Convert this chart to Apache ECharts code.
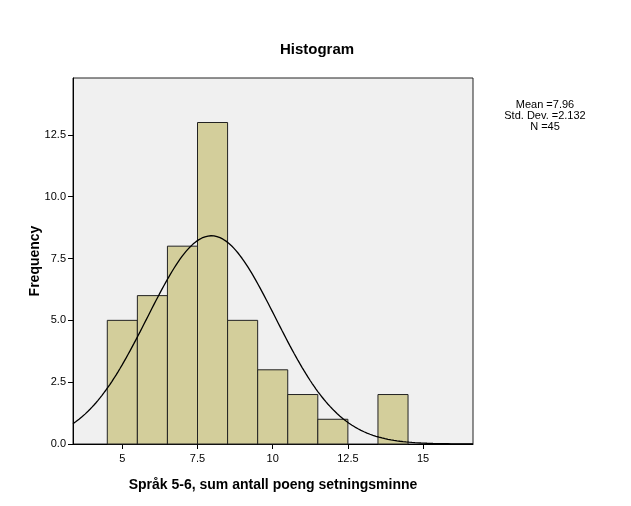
<!DOCTYPE html>
<html>
<head>
<meta charset="utf-8">
<script src="https://cdn.jsdelivr.net/npm/echarts@6/dist/echarts.min.js"></script>
<style>
  html, body { margin: 0; padding: 0; background: #fff; }
  #chart { width: 631px; height: 506px; }
</style>
</head>
<body>
<div id="chart"></div>
<script>
// histogram bins (centre of each bin, width 1)
var binCenters = [5, 6, 7, 8, 9, 10, 11, 12, 13, 14];
var binCounts = [5, 6, 8, 13, 5, 3, 2, 1, 0, 2];
var xTicks = [5, 7.5, 10, 12.5, 15];
var yTicks = [0, 2.5, 5, 7.5, 10, 12.5];

// summary statistics shown in the legend
var mean = 7.96;
var stdDev = 2.132;
var n = 45;

// fitted normal curve (scaled to counts, bin width 1)
var curve = [];
for (var i = 0; i <= 400; i++) {
  var x = 3.36 + i * (16.66 - 3.36) / 400;
  var z = (x - mean) / stdDev;
  curve.push([x, n / (stdDev * Math.sqrt(2 * Math.PI)) * Math.exp(-0.5 * z * z)]);
}

var myChart = echarts.init(document.getElementById('chart'));
var font = 'Arial, "Liberation Sans", sans-serif';

var option = {
  backgroundColor: '#ffffff',
  animation: false,
  title: {
    text: 'Histogram',
    left: 312,
    top: 37,
    textAlign: 'center',
    textStyle: { fontFamily: font, fontSize: 15, fontWeight: 'bold', color: '#000' }
  },
  grid: {
    left: 73,
    right: 158,
    top: 78,
    bottom: 62,
    show: true,
    backgroundColor: '#f0f0f0',
    borderColor: '#222',
    borderWidth: 1
  },
  xAxis: {
    type: 'value',
    min: 3.36,
    max: 16.66,
    name: 'Språk 5-6, sum antall poeng setningsminne',
    nameLocation: 'middle',
    nameGap: 34,
    nameTextStyle: { fontFamily: font, fontSize: 14, fontWeight: 'bold', color: '#000' },
    axisLine: { lineStyle: { color: '#000', width: 1 } },
    axisTick: { show: true, length: 5, customValues: xTicks, lineStyle: { color: '#000' } },
    axisLabel: {
      customValues: xTicks,
      fontFamily: font, fontSize: 11, color: '#000', margin: 9,
      formatter: function (v) { return String(v); }
    },
    splitLine: { show: false }
  },
  yAxis: {
    type: 'value',
    min: 0,
    max: 14.8,
    interval: 2.5,
    name: 'Frequency',
    nameLocation: 'middle',
    nameGap: 31,
    nameMoveOverlap: false,
    nameTextStyle: { fontFamily: font, fontSize: 14, fontWeight: 'bold', color: '#000' },
    axisLine: { show: true, lineStyle: { color: '#000', width: 1 } },
    axisTick: { show: true, length: 5, customValues: yTicks, lineStyle: { color: '#000' } },
    axisLabel: {
      customValues: yTicks,
      fontFamily: font, fontSize: 11, color: '#000', margin: 7,
      formatter: function (v) { return v.toFixed(1); }
    },
    splitLine: { show: false }
  },
  graphic: [
    {
      type: 'text',
      x: 545,
      y: 99,
      style: {
        text: 'Mean =' + mean + '\nStd. Dev. =' + stdDev + '\nN =' + n,
        fontFamily: font,
        fontSize: 11,
        lineHeight: 11,
        fill: '#000',
        align: 'center'
      }
    }
  ],
  series: [
    {
      type: 'custom',
      data: binCenters.map(function (c, i) { return [c, binCounts[i]]; }),
      renderItem: function (params, api) {
        var c = api.value(0), h = api.value(1);
        if (!h) return null;
        var p0 = api.coord([c - 0.5, h]);
        var p1 = api.coord([c + 0.5, 0]);
        return {
          type: 'rect',
          shape: { x: p0[0], y: p0[1], width: p1[0] - p0[0], height: p1[1] - p0[1] },
          style: { fill: '#d3ce9b', stroke: '#222', lineWidth: 1 }
        };
      }
    },
    {
      type: 'line',
      data: curve,
      showSymbol: false,
      smooth: false,
      lineStyle: { color: '#000', width: 1.3 },
      z: 5
    }
  ]
};

myChart.setOption(option);
</script>
</body>
</html>
